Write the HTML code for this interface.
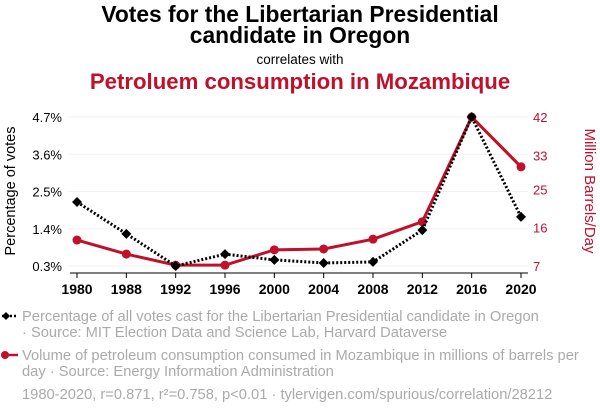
<!DOCTYPE html>
<html><head><meta charset="utf-8"><style>
body{margin:0;width:600px;height:414px;background:#fff;font-family:"Liberation Sans",sans-serif;overflow:hidden}
svg text{font-family:"Liberation Sans",sans-serif}
</style></head><body>
<svg id="chart" width="600" height="414" xmlns="http://www.w3.org/2000/svg">
<text x="300" y="22" text-anchor="middle" font-size="22.8" font-weight="bold" fill="#000">Votes for the Libertarian Presidential</text>
<text x="300" y="43" text-anchor="middle" font-size="22.8" font-weight="bold" fill="#000">candidate in Oregon</text>
<text x="300" y="64" text-anchor="middle" font-size="13.5" fill="#000">correlates with</text>
<text x="300" y="89" text-anchor="middle" font-size="22.2" font-weight="bold" fill="#c0102a">Petroluem consumption in Mozambique</text>
<g id="grid"></g><g id="axes"></g><g id="marks"></g>
<text transform="translate(15,191) rotate(-90)" text-anchor="middle" font-size="14.5" fill="#000">Percentage of votes</text>
<text transform="translate(585,191) rotate(90)" text-anchor="middle" font-size="15" fill="#c0102a">Million Barrels/Day</text>
<g>
<line x1="2" y1="316" x2="18" y2="316" stroke="#000" stroke-width="2.5" stroke-dasharray="2,2"/>
<path d="M6 312 L10 316 L6 320 L2 316Z" fill="#000"/>
<text x="22" y="321" font-size="14.7" fill="#aaa">Percentage of all votes cast for the Libertarian Presidential candidate in Oregon</text>
<text x="22" y="337" font-size="14.7" fill="#aaa">· Source: MIT Election Data and Science Lab, Harvard Dataverse</text>
</g>
<g>
<line x1="2" y1="355" x2="18" y2="355" stroke="#c0102a" stroke-width="2.5"/>
<circle cx="5" cy="355" r="4" fill="#c0102a"/>
<text x="22" y="360" font-size="14.7" fill="#aaa">Volume of petroleum consumption consumed in Mozambique in millions of barrels per</text>
<text x="22" y="376" font-size="14.7" fill="#aaa">day · Source: Energy Information Administration</text>
</g>
<text x="22" y="399" font-size="14.7" fill="#aaa">1980-2020, r=0.871, r²=0.758, p&lt;0.01 · tylervigen.com/spurious/correlation/28212</text>
</svg>
<script>
const years=[1980,1988,1992,1996,2000,2004,2008,2012,2016,2020];
const votes=[2.19,1.25,0.3,0.65,0.48,0.39,0.42,1.36,4.7,1.75];
const petrol=[13.1,9.8,7.2,7.2,10.8,11.0,13.3,17.4,42,30.3];
const leftTicks=[0.3,1.4,2.5,3.6,4.7];
const leftLabels=["0.3%","1.4%","2.5%","3.6%","4.7%"];
const rightTicks=[7,16,25,33,42];
const rightLabels=["7","16","25","33","42"];
const NS="http://www.w3.org/2000/svg";
const x=i=>77+i*(521-77)/(years.length-1);
const yL=v=>266-(v-0.3)/(4.7-0.3)*149;
const yR=v=>266-(v-7)/(42-7)*149;
function mk(t,a,p){const e=document.createElementNS(NS,t);for(const k in a)e.setAttribute(k,a[k]);p.appendChild(e);return e;}
const grid=document.getElementById('grid'),axes=document.getElementById('axes'),marks=document.getElementById('marks');
leftTicks.forEach((v,i)=>{
 const g=mk('line',{x1:68,x2:528,y1:yL(v),y2:yL(v),stroke:'#f0f0f0','stroke-width':1},grid);
 
 
 const t=mk('text',{x:62,y:yL(v)+5,'text-anchor':'end','font-size':13,fill:'#000'},axes);
 t.textContent=leftLabels[i];
 
 
});
rightTicks.forEach((v,i)=>{
 const t=mk('text',{x:533,y:yR(v)+5,'font-size':13,fill:'#c0102a'},axes);
 t.textContent=rightLabels[i];
 
 
});
const ax=mk('line',{x1:70,x2:528,y1:273,y2:273,stroke:'#000','stroke-width':1},axes);


years.forEach((yr,i)=>{
 mk('line',{x1:x(i),x2:x(i),y1:273,y2:278,stroke:'#000'},axes);
 const t=mk('text',{x:x(i),y:294,'text-anchor':'middle','font-size':14,'font-weight':'bold',fill:'#000'},axes);
 t.textContent=yr;
 
 
});
const pr=mk('polyline',{points:petrol.map((v,i)=>x(i)+','+yR(v)).join(' '),fill:'none',stroke:'#c0102a','stroke-width':3},marks);


petrol.forEach((v,i)=>{
 const c=mk('circle',{cx:x(i),cy:yR(v),r:4.5,fill:'#c0102a'},marks);
 
 
});
const vl=mk('polyline',{points:votes.map((v,i)=>x(i)+','+yL(v)).join(' '),fill:'none',stroke:'#000','stroke-width':3,'stroke-dasharray':'2,2'},marks);


votes.forEach((v,i)=>{
 const cx=x(i),cy=yL(v);
 const d=mk('path',{d:`M${cx} ${cy-5}L${cx+5} ${cy}L${cx} ${cy+5}L${cx-5} ${cy}Z`,fill:'#000'},marks);
 
 
});
</script>
</body></html>
